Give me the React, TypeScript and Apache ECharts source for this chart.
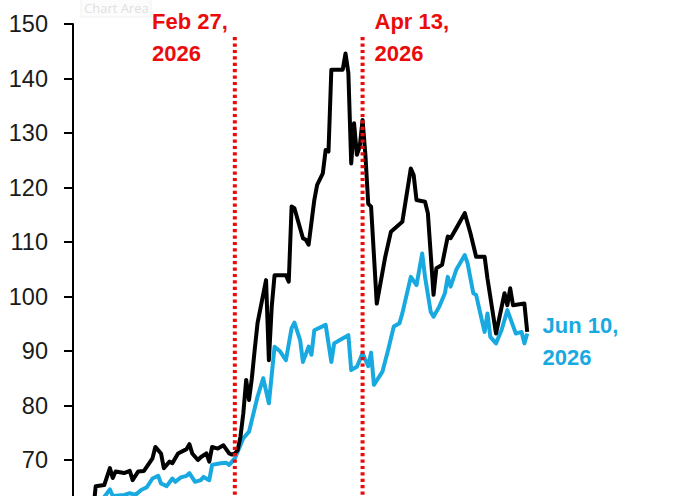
import React, { useEffect, useRef } from "react";
import * as echarts from "echarts";

// Black series (dates / values)
const blackDates = [
  "2026-01-08", "2026-01-09", "2026-01-12", "2026-01-14", "2026-01-15", "2026-01-16",
  "2026-01-19", "2026-01-21", "2026-01-22", "2026-01-24", "2026-01-26", "2026-01-29",
  "2026-01-30", "2026-02-01", "2026-02-02", "2026-02-04", "2026-02-05", "2026-02-07",
  "2026-02-10", "2026-02-11", "2026-02-12", "2026-02-14", "2026-02-15", "2026-02-17",
  "2026-02-18", "2026-02-19", "2026-02-21", "2026-02-23", "2026-02-25", "2026-02-26",
  "2026-02-27", "2026-02-28", "2026-03-01", "2026-03-02", "2026-03-03", "2026-03-04",
  "2026-03-05", "2026-03-06", "2026-03-07", "2026-03-10", "2026-03-11", "2026-03-12",
  "2026-03-13", "2026-03-17", "2026-03-18", "2026-03-19", "2026-03-20", "2026-03-23",
  "2026-03-24", "2026-03-25", "2026-03-27", "2026-03-28", "2026-03-30", "2026-03-31",
  "2026-04-01", "2026-04-02", "2026-04-06", "2026-04-07", "2026-04-08", "2026-04-09",
  "2026-04-10", "2026-04-11", "2026-04-12", "2026-04-13", "2026-04-14", "2026-04-15",
  "2026-04-16", "2026-04-18", "2026-04-21", "2026-04-23", "2026-04-25", "2026-04-27",
  "2026-04-30", "2026-05-01", "2026-05-02", "2026-05-05", "2026-05-06", "2026-05-08",
  "2026-05-09", "2026-05-11", "2026-05-13", "2026-05-14", "2026-05-16", "2026-05-19",
  "2026-05-21", "2026-05-23", "2026-05-26", "2026-05-27", "2026-05-30", "2026-06-02",
  "2026-06-03", "2026-06-04", "2026-06-05", "2026-06-09", "2026-06-10",
];
const blackValues = [
  60.0, 65.2, 65.4, 68.5, 66.7, 67.9,
  67.6, 68.0, 66.3, 67.9, 68.0, 70.3,
  72.4, 71.2, 68.5, 69.7, 69.4, 71.2,
  72.0, 72.9, 71.2, 70.0, 70.5, 71.2,
  69.7, 72.4, 72.1, 72.7, 71.2, 71.0,
  71.2, 71.8, 74.3, 78.6, 84.7, 81.0,
  85.0, 90.2, 95.1, 103.0, 88.3, 98.1,
  103.9, 103.9, 102.7, 116.5, 116.2, 110.7,
  110.4, 109.5, 117.7, 120.5, 122.6, 126.9,
  126.6, 141.6, 141.6, 144.6, 141.0, 124.4,
  131.8, 126.0, 127.5, 132.4, 126.0, 117.0,
  116.5, 98.7, 107.3, 111.9, 112.8, 113.7,
  123.5, 122.3, 117.7, 117.4, 115.3, 100.3,
  105.2, 105.8, 111.0, 110.7, 112.5, 115.3,
  111.6, 107.3, 107.3, 103.3, 93.2, 100.6,
  98.4, 101.5, 98.4, 98.7, 93.5,
];

// Blue series (dates / values)
const blueDates = [
  "2026-01-10", "2026-01-12", "2026-01-14", "2026-01-15", "2026-01-19", "2026-01-21",
  "2026-01-23", "2026-01-25", "2026-01-27", "2026-01-29", "2026-01-31", "2026-02-01",
  "2026-02-03", "2026-02-05", "2026-02-06", "2026-02-08", "2026-02-10", "2026-02-11",
  "2026-02-13", "2026-02-15", "2026-02-16", "2026-02-18", "2026-02-19", "2026-02-22",
  "2026-02-24", "2026-02-25", "2026-02-27", "2026-03-02", "2026-03-04", "2026-03-07",
  "2026-03-09", "2026-03-11", "2026-03-13", "2026-03-15", "2026-03-17", "2026-03-19",
  "2026-03-20", "2026-03-22", "2026-03-23", "2026-03-25", "2026-03-26", "2026-03-27",
  "2026-03-31", "2026-04-02", "2026-04-03", "2026-04-05", "2026-04-08", "2026-04-09",
  "2026-04-11", "2026-04-13", "2026-04-15", "2026-04-16", "2026-04-17", "2026-04-20",
  "2026-04-22", "2026-04-24", "2026-04-26", "2026-04-27", "2026-04-30", "2026-05-02",
  "2026-05-04", "2026-05-05", "2026-05-07", "2026-05-08", "2026-05-10", "2026-05-12",
  "2026-05-13", "2026-05-14", "2026-05-16", "2026-05-19", "2026-05-20", "2026-05-22",
  "2026-05-23", "2026-05-25", "2026-05-26", "2026-05-27", "2026-05-28", "2026-05-30",
  "2026-06-01", "2026-06-03", "2026-06-06", "2026-06-08", "2026-06-09", "2026-06-10",
];
const blueValues = [
  62.0, 63.2, 64.6, 63.4, 63.6, 63.9,
  63.6, 64.5, 65.0, 66.6, 67.1, 65.7,
  65.2, 66.6, 66.0, 66.8, 67.1, 67.6,
  66.0, 66.3, 66.9, 66.3, 69.1, 69.4,
  69.5, 69.1, 70.3, 74.0, 75.2, 81.6,
  85.0, 80.4, 90.8, 89.9, 88.3, 94.2,
  95.2, 92.0, 88.0, 90.8, 89.3, 93.8,
  94.8, 88.0, 91.4, 92.0, 92.9, 86.5,
  87.1, 89.6, 87.2, 89.7, 83.8, 86.2,
  90.2, 94.5, 95.1, 96.9, 103.6, 102.1,
  107.9, 103.6, 97.2, 96.3, 98.1, 100.6,
  103.6, 101.8, 104.9, 107.6, 106.1, 100.6,
  100.3, 95.7, 93.5, 96.9, 92.6, 91.4,
  93.9, 97.5, 93.2, 93.5, 91.4, 93.2,
];

// Event markers
const eventDates = ["2026-02-27", "2026-04-13"];
const eventLabels = [["Feb 27,", "2026"], ["Apr 13,", "2026"]];
const endLabel = ["Jun 10,", "2026"];
const eventLineTop = 147.6;
const eventLineBottom = 50;

// Axis settings
const yMin = 60;
const yMax = 150;
const yInterval = 10;
const xMin = "2026-01-01";
const xMax = "2026-06-30";

const BLUE = "#19a9e1";
const RED = "#ea0b0b";

export default function App() {
  const ref = useRef<HTMLDivElement>(null);

  useEffect(() => {
    if (!ref.current) return;
    const chart = echarts.init(ref.current, undefined, { renderer: "svg" });

    const eventSeries = eventDates.map((d) => ({
      type: "line" as const,
      data: [
        [d, eventLineTop],
        [d, eventLineBottom],
      ],
      symbol: "none",
      silent: true,
      z: 5,
      clip: false,
      lineStyle: { color: RED, width: 4, type: [3.2, 3.2], cap: "butt" },
    }));

    const labelFont = {
      fontFamily: "Liberation Sans, Arial, sans-serif",
      fontWeight: "bold" as const,
      fontSize: 22,
    };

    const textEl = (x: number, y: number, text: string, fill: string) => ({
      type: "text" as const,
      x,
      y,
      silent: true,
      style: { text, fill, ...labelFont, verticalAlign: "middle" as const, align: "left" as const },
    });

    const graphics: any[] = [
      {
        type: "rect",
        shape: { x: 81, y: -1, width: 70, height: 18 },
        style: { fill: "#fcfcfc", stroke: "#f1f1f1", lineWidth: 1 },
        silent: true,
      },
      {
        type: "text",
        x: 84,
        y: 8,
        silent: true,
        style: {
          text: "Chart Area",
          fill: "#e0e0e0",
          fontSize: 13,
          fontFamily: "Open Sans, Noto Sans, sans-serif",
          verticalAlign: "middle",
        },
      },
      textEl(152, 21.7, eventLabels[0][0], RED),
      textEl(152, 53.5, eventLabels[0][1], RED),
      textEl(374.5, 21.7, eventLabels[1][0], RED),
      textEl(374.5, 53.5, eventLabels[1][1], RED),
      textEl(542.5, 325, endLabel[0], BLUE),
      textEl(542.5, 357, endLabel[1], BLUE),
    ];

    chart.setOption({
      animation: false,
      backgroundColor: "#ffffff",
      grid: { left: 73, top: 24, right: 96, height: 490.5 },
      xAxis: {
        type: "time",
        min: xMin,
        max: xMax,
        show: false,
        splitLine: { show: false },
      },
      yAxis: {
        type: "value",
        min: yMin,
        max: yMax,
        interval: yInterval,
        axisLine: { show: true, lineStyle: { color: "#000", width: 2 } },
        axisTick: { show: true, inside: false, length: 9, lineStyle: { color: "#000", width: 2 } },
        axisLabel: {
          color: "#1a1a1a",
          fontSize: 23.5,
          fontFamily: "Liberation Sans, Arial, sans-serif",
          margin: 25,
          showMinLabel: false,
        },
        splitLine: { show: false },
      },
      series: [
        {
          type: "line",
          data: blueDates.map((d, i) => [d, blueValues[i]]),
          symbol: "none",
          z: 3,
          lineStyle: { color: BLUE, width: 4, join: "round" },
        },
        {
          type: "line",
          data: blackDates.map((d, i) => [d, blackValues[i]]),
          symbol: "none",
          z: 4,
          lineStyle: { color: "#000000", width: 4, join: "round" },
        },
        ...eventSeries,
      ],
      graphic: graphics,
    });

    return () => chart.dispose();
  }, []);

  return (
    <div
      ref={ref}
      style={{ position: "fixed", left: 0, top: 0, width: 680, height: 540, background: "#fff" }}
    />
  );
}
